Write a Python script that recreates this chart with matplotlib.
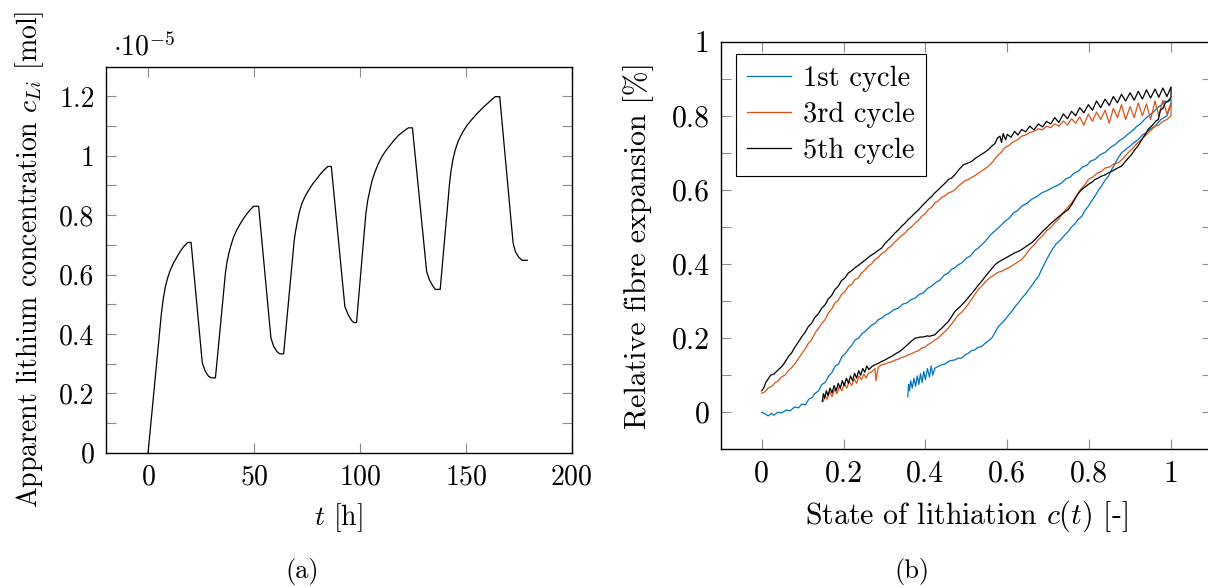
import matplotlib.pyplot as plt
import numpy as np

plt.rcParams['font.family'] = 'cmr10'
plt.rcParams['mathtext.fontset'] = 'cm'
plt.rcParams['axes.formatter.use_mathtext'] = True
plt.rcParams['axes.unicode_minus'] = False

# (a) apparent lithium concentration, in units of 1e-5 mol
time_h = [0, 6.3, 7.2, 8.2, 9.3, 10.5, 12.1, 13.7, 15.2, 16.8, 18.7, 20.3,
          25.6, 27.0, 28.6, 29.9, 31.8,
          36.5, 37.2, 38.1, 39.2, 40.4, 42.0, 43.6, 45.2, 46.7, 48.2, 49.8, 52.2,
          58.0, 59.3, 60.8, 62.1, 64.0,
          69.0, 69.6, 70.3, 71.4, 72.6, 74.1, 75.8, 77.7, 79.7, 81.3, 82.9, 84.9, 86.5,
          92.9, 94.5, 96.1, 97.2, 98.4,
          102.8, 103.7, 104.7, 105.8, 107.1, 108.6, 110.3, 112.2, 114.2, 116.1, 118.1, 120.5, 122.9, 124.8,
          131.5, 132.8, 134.4, 135.6, 137.9,
          142.3, 143.0, 143.8, 145.0, 146.5, 148.4, 150.5, 152.8, 155.2, 157.5, 159.9, 161.9, 163.9, 166.0,
          172.3, 173.4, 175.0, 176.6, 179.0]
conc_e5 = [0, 0.47, 0.52, 0.56, 0.59, 0.615, 0.64, 0.66, 0.678, 0.694, 0.708, 0.708,
           0.302, 0.274, 0.257, 0.252, 0.252,
           0.604, 0.64, 0.671, 0.70, 0.727, 0.752, 0.772, 0.79, 0.805, 0.818, 0.83, 0.83,
           0.386, 0.358, 0.341, 0.333, 0.333,
           0.716, 0.745, 0.772, 0.81, 0.839, 0.863, 0.884, 0.905, 0.923, 0.938, 0.951, 0.964, 0.964,
           0.492, 0.464, 0.445, 0.438, 0.438,
           0.805, 0.85, 0.884, 0.918, 0.945, 0.972, 0.996, 1.017, 1.035, 1.052, 1.068, 1.082, 1.094, 1.094,
           0.61, 0.582, 0.562, 0.55, 0.55,
           0.906, 0.948, 0.984, 1.02, 1.051, 1.078, 1.102, 1.122, 1.141, 1.158, 1.174, 1.187, 1.199, 1.199,
           0.707, 0.677, 0.658, 0.648, 0.648]

# (b) relative fibre expansion vs state of lithiation, (c, expansion %) pairs
cycle1_up = [(0.0, 0.0), (0.008, -0.004), (0.016, -0.01), (0.024, -0.003), (0.03, -0.008), (0.04, 0.0),
             (0.049, -0.002), (0.06, 0.006), (0.07, 0.004), (0.08, 0.014), (0.09, 0.012), (0.098, 0.022),
             (0.107, 0.02), (0.115, 0.035), (0.123, 0.04), (0.13, 0.05), (0.139, 0.058), (0.147, 0.075),
             (0.155, 0.08), (0.163, 0.096), (0.172, 0.108), (0.18, 0.125), (0.188, 0.13), (0.196, 0.15),
             (0.204, 0.158), (0.212, 0.17), (0.22, 0.18), (0.228, 0.195), (0.237, 0.2), (0.245, 0.212),
             (0.253, 0.218), (0.261, 0.227), (0.27, 0.236), (0.277, 0.24), (0.285, 0.25), (0.293, 0.254),
             (0.302, 0.262), (0.31, 0.266), (0.322, 0.276), (0.334, 0.281), (0.345, 0.292), (0.355, 0.295),
             (0.365, 0.304), (0.375, 0.308), (0.385, 0.318), (0.395, 0.322), (0.405, 0.334), (0.415, 0.34),
             (0.425, 0.35), (0.435, 0.356), (0.446, 0.37), (0.456, 0.376), (0.464, 0.386), (0.472, 0.39),
             (0.48, 0.398), (0.489, 0.403), (0.5, 0.416), (0.51, 0.422), (0.52, 0.436), (0.529, 0.443),
             (0.545, 0.46), (0.56, 0.48), (0.577, 0.496), (0.594, 0.515), (0.605, 0.524), (0.615, 0.538),
             (0.625, 0.544), (0.635, 0.556), (0.648, 0.564), (0.66, 0.575), (0.672, 0.582), (0.684, 0.592),
             (0.697, 0.598), (0.71, 0.606), (0.722, 0.612), (0.733, 0.619), (0.743, 0.63), (0.753, 0.634),
             (0.763, 0.645), (0.773, 0.65), (0.784, 0.662), (0.794, 0.666), (0.804, 0.678), (0.814, 0.682),
             (0.827, 0.695), (0.84, 0.702), (0.852, 0.715), (0.863, 0.722), (0.874, 0.733), (0.884, 0.74),
             (0.894, 0.75), (0.904, 0.758), (0.915, 0.77), (0.925, 0.778), (0.935, 0.79), (0.944, 0.799),
             (0.955, 0.808), (0.965, 0.82), (0.975, 0.828), (0.985, 0.84), (0.993, 0.838), (1.0, 0.845)]
cycle1_down = [(1.0, 0.83), (0.99, 0.8), (0.975, 0.79), (0.961, 0.772), (0.95, 0.765), (0.94, 0.755),
               (0.93, 0.748), (0.92, 0.736), (0.91, 0.728), (0.9, 0.718), (0.89, 0.71), (0.879, 0.7),
               (0.87, 0.685), (0.863, 0.67), (0.855, 0.655), (0.847, 0.637), (0.838, 0.625), (0.83, 0.61),
               (0.822, 0.598), (0.814, 0.583), (0.806, 0.57), (0.798, 0.556), (0.79, 0.545), (0.782, 0.529),
               (0.773, 0.52), (0.765, 0.508), (0.757, 0.5), (0.749, 0.488), (0.74, 0.478), (0.73, 0.465),
               (0.72, 0.455), (0.712, 0.443), (0.704, 0.428), (0.695, 0.41), (0.686, 0.39), (0.676, 0.366),
               (0.668, 0.355), (0.66, 0.342), (0.652, 0.33), (0.643, 0.317), (0.635, 0.307), (0.627, 0.295),
               (0.619, 0.285), (0.611, 0.272), (0.603, 0.262), (0.595, 0.25), (0.586, 0.24), (0.578, 0.231),
               (0.57, 0.215), (0.562, 0.2), (0.553, 0.192), (0.545, 0.185), (0.537, 0.177), (0.528, 0.175),
               (0.52, 0.168), (0.512, 0.166), (0.505, 0.159), (0.497, 0.155), (0.489, 0.146), (0.48, 0.146),
               (0.472, 0.141), (0.464, 0.14), (0.456, 0.137), (0.448, 0.13), (0.44, 0.128), (0.432, 0.124),
               (0.423, 0.119), (0.418, 0.1), (0.414, 0.125), (0.41, 0.095), (0.405, 0.118), (0.4, 0.088),
               (0.396, 0.11), (0.392, 0.08), (0.388, 0.104), (0.384, 0.075), (0.38, 0.098), (0.376, 0.07),
               (0.372, 0.092), (0.368, 0.065), (0.364, 0.085), (0.361, 0.058), (0.359, 0.075), (0.357, 0.042)]

cycle3_up = [(0.0, 0.051), (0.008, 0.055), (0.016, 0.065), (0.025, 0.07), (0.033, 0.08), (0.041, 0.085),
             (0.049, 0.096), (0.057, 0.1), (0.065, 0.112), (0.073, 0.12), (0.082, 0.132), (0.09, 0.145),
             (0.098, 0.158), (0.106, 0.17), (0.114, 0.186), (0.122, 0.195), (0.13, 0.213), (0.138, 0.225),
             (0.147, 0.24), (0.155, 0.25), (0.163, 0.268), (0.171, 0.278), (0.179, 0.295), (0.187, 0.302),
             (0.195, 0.318), (0.203, 0.325), (0.212, 0.34), (0.22, 0.345), (0.228, 0.358), (0.236, 0.362),
             (0.244, 0.376), (0.252, 0.383), (0.26, 0.394), (0.268, 0.4), (0.277, 0.412), (0.285, 0.418),
             (0.293, 0.428), (0.301, 0.433), (0.309, 0.443), (0.316, 0.448), (0.322, 0.456), (0.331, 0.465),
             (0.34, 0.475), (0.349, 0.482), (0.358, 0.493), (0.366, 0.5), (0.375, 0.511), (0.383, 0.518),
             (0.391, 0.529), (0.399, 0.535), (0.407, 0.547), (0.415, 0.553), (0.423, 0.565), (0.431, 0.57),
             (0.44, 0.58), (0.448, 0.584), (0.456, 0.592), (0.464, 0.595), (0.472, 0.6), (0.48, 0.61),
             (0.489, 0.618), (0.497, 0.625), (0.505, 0.628), (0.513, 0.634), (0.523, 0.64), (0.533, 0.648),
             (0.543, 0.655), (0.554, 0.664), (0.564, 0.675), (0.574, 0.69), (0.584, 0.7), (0.594, 0.714),
             (0.604, 0.72), (0.615, 0.73), (0.625, 0.735), (0.635, 0.745), (0.645, 0.748), (0.655, 0.755),
             (0.665, 0.758), (0.676, 0.765), (0.686, 0.762), (0.696, 0.772), (0.706, 0.768), (0.716, 0.778),
             (0.726, 0.772), (0.737, 0.786), (0.747, 0.775), (0.757, 0.792), (0.767, 0.78), (0.777, 0.797),
             (0.787, 0.775), (0.798, 0.805), (0.808, 0.785), (0.818, 0.81), (0.828, 0.79), (0.839, 0.815),
             (0.849, 0.78), (0.859, 0.82), (0.869, 0.795), (0.879, 0.83), (0.889, 0.79), (0.9, 0.825),
             (0.91, 0.795), (0.92, 0.835), (0.93, 0.8), (0.94, 0.832), (0.95, 0.79), (0.961, 0.84),
             (0.97, 0.8), (0.98, 0.842), (0.99, 0.805), (1.0, 0.835)]
cycle3_down = [(1.0, 0.8), (0.99, 0.79), (0.98, 0.785), (0.97, 0.775), (0.961, 0.772), (0.95, 0.76),
               (0.94, 0.75), (0.928, 0.736), (0.917, 0.725), (0.906, 0.712), (0.895, 0.7), (0.883, 0.685),
               (0.871, 0.673), (0.86, 0.67), (0.85, 0.662), (0.839, 0.659), (0.83, 0.65), (0.82, 0.645),
               (0.809, 0.635), (0.798, 0.628), (0.788, 0.612), (0.778, 0.6), (0.767, 0.58), (0.757, 0.565),
               (0.747, 0.552), (0.736, 0.538), (0.726, 0.522), (0.716, 0.511), (0.706, 0.498), (0.696, 0.49),
               (0.686, 0.476), (0.676, 0.466), (0.666, 0.452), (0.655, 0.44), (0.645, 0.425), (0.635, 0.412),
               (0.625, 0.405), (0.615, 0.398), (0.604, 0.39), (0.594, 0.385), (0.586, 0.38), (0.578, 0.378),
               (0.57, 0.372), (0.562, 0.366), (0.554, 0.36), (0.545, 0.35), (0.537, 0.34), (0.529, 0.331),
               (0.521, 0.318), (0.513, 0.305), (0.505, 0.292), (0.497, 0.281), (0.489, 0.27), (0.48, 0.262),
               (0.472, 0.25), (0.464, 0.238), (0.456, 0.227), (0.448, 0.218), (0.44, 0.21), (0.431, 0.2),
               (0.423, 0.195), (0.415, 0.188), (0.407, 0.183), (0.399, 0.176), (0.391, 0.173), (0.383, 0.166),
               (0.375, 0.163), (0.366, 0.158), (0.358, 0.155), (0.35, 0.15), (0.342, 0.148), (0.334, 0.143),
               (0.326, 0.141), (0.318, 0.136), (0.31, 0.134), (0.301, 0.13), (0.293, 0.128), (0.285, 0.122),
               (0.279, 0.085), (0.277, 0.118), (0.27, 0.11), (0.261, 0.105), (0.255, 0.092), (0.25, 0.103),
               (0.244, 0.088), (0.238, 0.098), (0.232, 0.078), (0.226, 0.09), (0.22, 0.072), (0.214, 0.084),
               (0.208, 0.065), (0.202, 0.077), (0.196, 0.058), (0.19, 0.07), (0.184, 0.05), (0.178, 0.062),
               (0.172, 0.042), (0.166, 0.055), (0.16, 0.035), (0.155, 0.045), (0.151, 0.03)]

cycle5_up = [(0.0, 0.058), (0.005, 0.065), (0.01, 0.08), (0.016, 0.09), (0.022, 0.1), (0.03, 0.103),
             (0.04, 0.114), (0.049, 0.123), (0.057, 0.135), (0.065, 0.15), (0.073, 0.16), (0.082, 0.177),
             (0.09, 0.19), (0.098, 0.204), (0.106, 0.215), (0.114, 0.231), (0.122, 0.24), (0.13, 0.256),
             (0.138, 0.265), (0.147, 0.281), (0.155, 0.29), (0.163, 0.306), (0.171, 0.315), (0.179, 0.331),
             (0.187, 0.34), (0.195, 0.355), (0.203, 0.362), (0.212, 0.376), (0.22, 0.382), (0.228, 0.39),
             (0.236, 0.396), (0.244, 0.403), (0.252, 0.41), (0.26, 0.417), (0.268, 0.424), (0.277, 0.43),
             (0.285, 0.437), (0.293, 0.443), (0.301, 0.455), (0.31, 0.465), (0.318, 0.474), (0.326, 0.484),
             (0.334, 0.492), (0.342, 0.502), (0.35, 0.51), (0.358, 0.52), (0.366, 0.528), (0.375, 0.538),
             (0.383, 0.546), (0.391, 0.556), (0.399, 0.565), (0.407, 0.574), (0.415, 0.582), (0.423, 0.592),
             (0.431, 0.6), (0.44, 0.61), (0.448, 0.618), (0.456, 0.628), (0.464, 0.632), (0.472, 0.641),
             (0.482, 0.655), (0.493, 0.668), (0.503, 0.672), (0.513, 0.677), (0.523, 0.686), (0.533, 0.693),
             (0.543, 0.7), (0.554, 0.709), (0.562, 0.718), (0.57, 0.725), (0.576, 0.74), (0.582, 0.745),
             (0.586, 0.728), (0.59, 0.752), (0.596, 0.735), (0.6, 0.75), (0.609, 0.742), (0.618, 0.758),
             (0.626, 0.748), (0.635, 0.763), (0.645, 0.757), (0.655, 0.772), (0.665, 0.762), (0.676, 0.778),
             (0.686, 0.77), (0.696, 0.785), (0.706, 0.778), (0.716, 0.795), (0.726, 0.782), (0.737, 0.805),
             (0.747, 0.792), (0.757, 0.812), (0.767, 0.8), (0.777, 0.822), (0.787, 0.808), (0.798, 0.83),
             (0.808, 0.815), (0.818, 0.84), (0.828, 0.822), (0.839, 0.845), (0.849, 0.828), (0.859, 0.852),
             (0.869, 0.835), (0.879, 0.858), (0.889, 0.84), (0.9, 0.862), (0.91, 0.842), (0.92, 0.866),
             (0.93, 0.845), (0.94, 0.87), (0.95, 0.848), (0.961, 0.872), (0.97, 0.85), (0.98, 0.875),
             (0.99, 0.852), (1.0, 0.878)]
cycle5_down = [(1.0, 0.85), (0.993, 0.84), (0.986, 0.835), (0.98, 0.82), (0.974, 0.815), (0.969, 0.79),
               (0.962, 0.785), (0.955, 0.775), (0.95, 0.77), (0.944, 0.763), (0.936, 0.748), (0.928, 0.735),
               (0.92, 0.72), (0.912, 0.709), (0.903, 0.695), (0.895, 0.685), (0.887, 0.675), (0.879, 0.664),
               (0.871, 0.66), (0.863, 0.655), (0.855, 0.65), (0.847, 0.646), (0.838, 0.64), (0.83, 0.637),
               (0.822, 0.632), (0.814, 0.628), (0.806, 0.62), (0.798, 0.615), (0.79, 0.608), (0.782, 0.601),
               (0.773, 0.59), (0.765, 0.575), (0.757, 0.56), (0.749, 0.547), (0.738, 0.538), (0.728, 0.53),
               (0.718, 0.52), (0.708, 0.511), (0.698, 0.5), (0.688, 0.49), (0.678, 0.478), (0.668, 0.466),
               (0.66, 0.458), (0.652, 0.452), (0.643, 0.445), (0.635, 0.439), (0.627, 0.434), (0.618, 0.43),
               (0.61, 0.425), (0.602, 0.42), (0.594, 0.415), (0.586, 0.41), (0.578, 0.405), (0.57, 0.398),
               (0.564, 0.39), (0.558, 0.382), (0.552, 0.374), (0.546, 0.366), (0.54, 0.357), (0.533, 0.348),
               (0.527, 0.34), (0.521, 0.331), (0.515, 0.323), (0.509, 0.315), (0.503, 0.307), (0.497, 0.299),
               (0.491, 0.292), (0.485, 0.285), (0.478, 0.278), (0.472, 0.272), (0.464, 0.258), (0.456, 0.245),
               (0.448, 0.236), (0.44, 0.227), (0.431, 0.218), (0.423, 0.209), (0.416, 0.207), (0.41, 0.205),
               (0.404, 0.206), (0.399, 0.204), (0.393, 0.203), (0.387, 0.203), (0.381, 0.201), (0.375, 0.2),
               (0.366, 0.192), (0.358, 0.184), (0.35, 0.176), (0.342, 0.168), (0.334, 0.162), (0.326, 0.157),
               (0.318, 0.151), (0.309, 0.146), (0.301, 0.141), (0.293, 0.137), (0.285, 0.132), (0.277, 0.128),
               (0.27, 0.124), (0.262, 0.115), (0.257, 0.125), (0.252, 0.108), (0.247, 0.118), (0.242, 0.1),
               (0.237, 0.112), (0.232, 0.092), (0.227, 0.105), (0.222, 0.085), (0.217, 0.098), (0.212, 0.078),
               (0.207, 0.092), (0.202, 0.072), (0.197, 0.085), (0.192, 0.065), (0.187, 0.078), (0.182, 0.058),
               (0.177, 0.072), (0.172, 0.052), (0.167, 0.065), (0.162, 0.045), (0.158, 0.058), (0.154, 0.038),
               (0.151, 0.05), (0.148, 0.029)]

cycle_names = ['1st cycle', '3rd cycle', '5th cycle']
cycle_colors = ['#0072BD', '#D95319', 'black']

fig = plt.figure(figsize=(12.08, 5.87), dpi=100)
ax1 = fig.add_axes([0.0875, 0.2288, 0.3858, 0.6576])
ax2 = fig.add_axes([0.5966, 0.2346, 0.4067, 0.6944])

for ax, fs in ((ax1, 20), (ax2, 21.5)):
    for s in ax.spines.values():
        s.set_linewidth(1.0)
    ax.tick_params(which='both', direction='in', length=7, width=0.8, color='#8c8c8c',
                   top=True, right=True, labelsize=fs, pad=8)

# panel (a)
ax1.plot(time_h, conc_e5, color='black', lw=0.9)
ax1.set_xlim(-20, 200)
ax1.set_ylim(0, 1.3)
ax1.set_xticks([0, 50, 100, 150, 200])
ax1.set_yticks([0, 0.2, 0.4, 0.6, 0.8, 1.0, 1.2])
ax1.set_yticklabels(['0', '0.2', '0.4', '0.6', '0.8', '1', '1.2'])
ax1.set_yticks([0.1, 0.3, 0.5, 0.7, 0.9, 1.1], minor=True)
ax1.set_xlabel(r'$t$ [h]', fontsize=20)
ax1.set_ylabel(r'Apparent lithium concentration $c_{Li}$ [mol]', fontsize=20)
ax1.xaxis.set_label_coords(0.5, -0.125)
ax1.yaxis.set_label_coords(-0.128, 0.5)
fig.text(113 / 1208, 1 - 55 / 587, r'$\cdot 10^{-5}$', fontsize=20, va='baseline')

# panel (b)
branches = [(cycle1_up, cycle1_down), (cycle3_up, cycle3_down), (cycle5_up, cycle5_down)]
for (up, down), name, col in zip(branches, cycle_names, cycle_colors):
    pts = np.array(up + down)
    ax2.plot(pts[:, 0], pts[:, 1], color=col, lw=0.9, label=name)
ax2.set_xlim(-0.1, 1.1)
ax2.set_ylim(-0.1, 1.0)
ax2.set_xticks([0, 0.2, 0.4, 0.6, 0.8, 1.0])
ax2.set_xticklabels(['0', '0.2', '0.4', '0.6', '0.8', '1'])
ax2.set_yticks([0, 0.2, 0.4, 0.6, 0.8, 1.0])
ax2.set_yticklabels(['0', '0.2', '0.4', '0.6', '0.8', '1'])
ax2.set_yticks([-0.1, 0.1, 0.3, 0.5, 0.7, 0.9], minor=True)
ax2.set_xlabel(r'State of lithiation $c(t)$ [-]', fontsize=21.5)
ax2.set_ylabel('Relative fibre expansion [%]', fontsize=21.5)
ax2.xaxis.set_label_coords(0.5, -0.122)
ax2.yaxis.set_label_coords(-0.135, 0.5)
leg = ax2.legend(loc='upper left', bbox_to_anchor=(0.0305, 0.97), borderaxespad=0,
                 fontsize=20.5, handlelength=1.55, handletextpad=0.4, labelspacing=0.35,
                 borderpad=0.4, fancybox=False, edgecolor='black', framealpha=1)
leg.get_frame().set_linewidth(0.8)

fig.text(0.25, 0.0256, '(a)', ha='center', va='center', fontsize=19)
fig.text(0.755, 0.0256, '(b)', ha='center', va='center', fontsize=19)

fig.savefig('out.png', dpi=100)
